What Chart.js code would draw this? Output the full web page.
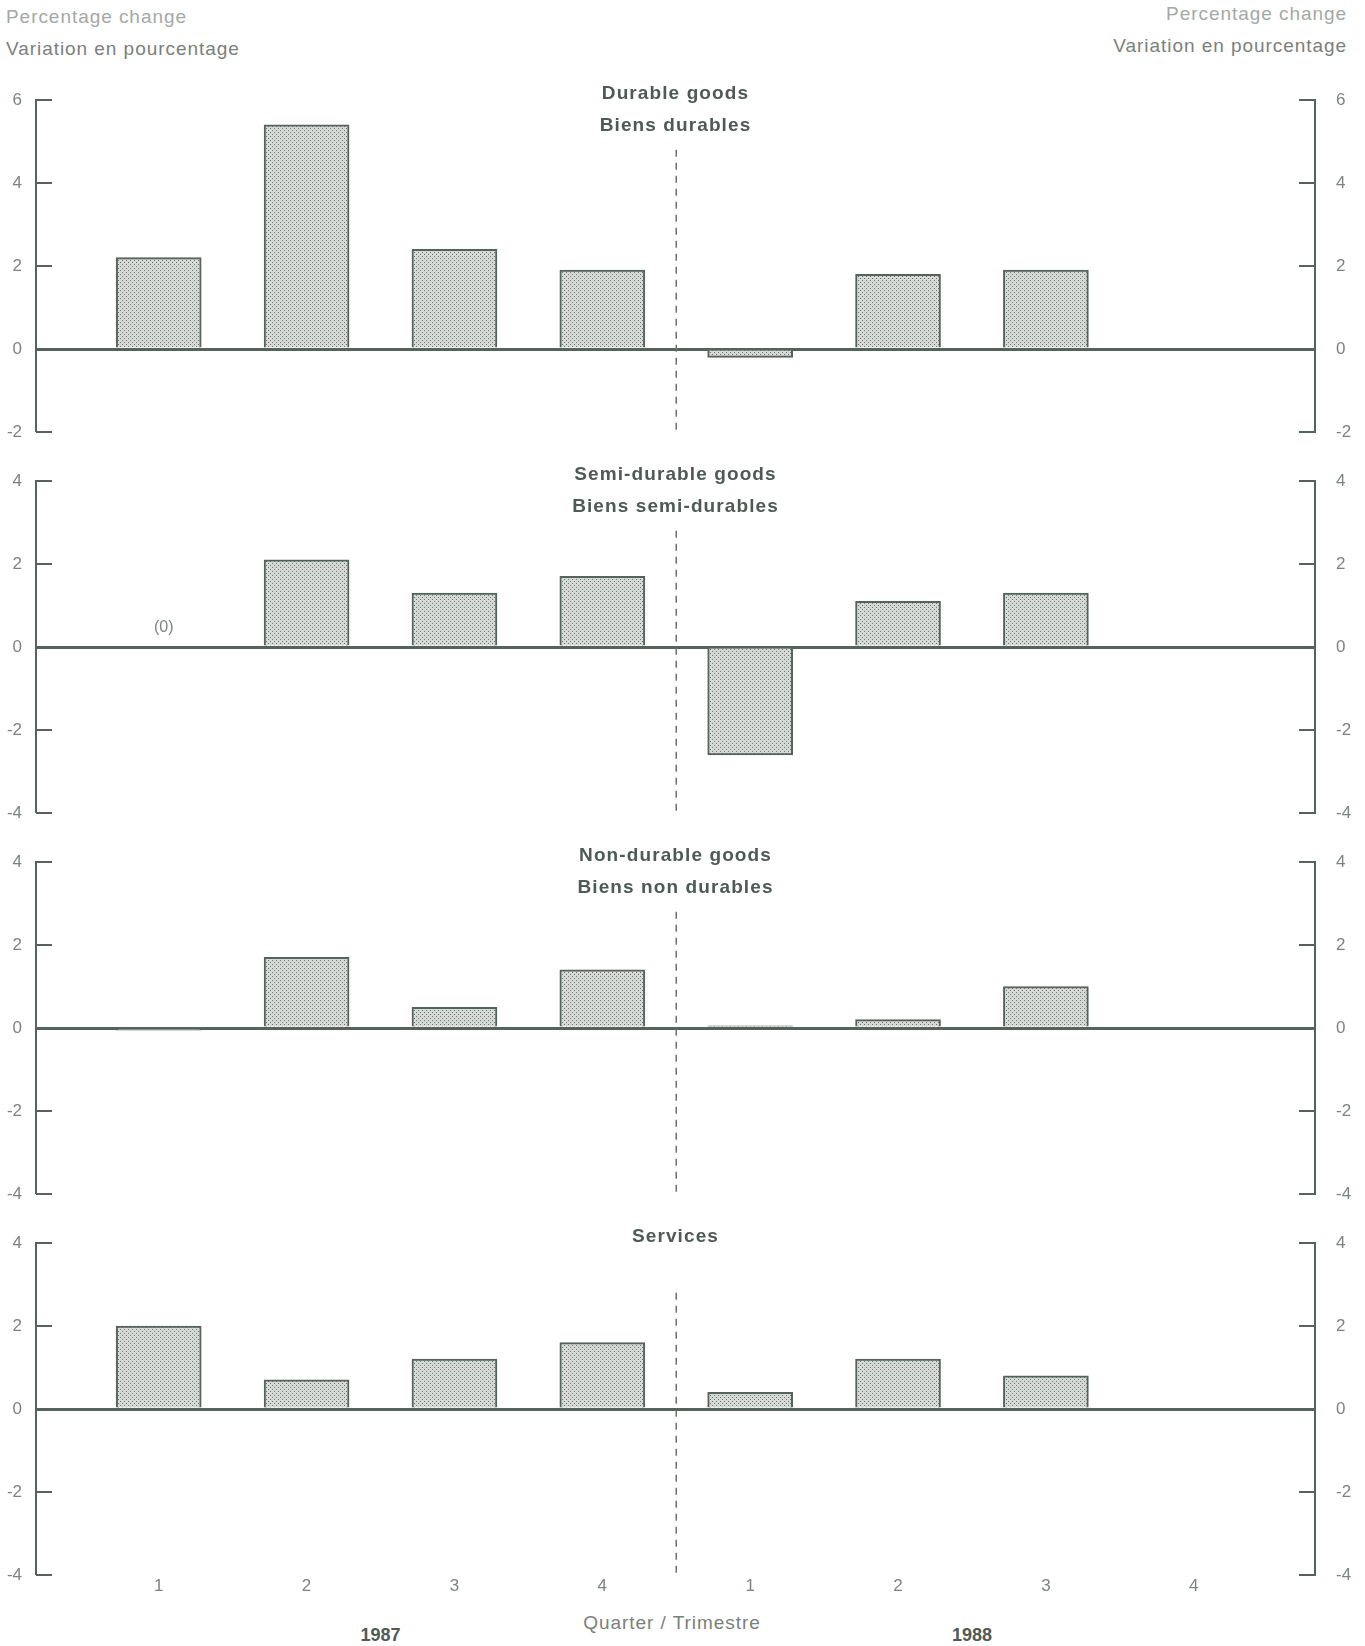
<!DOCTYPE html>
<html lang="en">
<head>
<meta charset="UTF-8">
<title>Consumer expenditure by type</title>
<script src="https://cdn.jsdelivr.net/npm/chart.js@4"></script>
<style>
  body { margin: 0; background: #fff; font-family: "Liberation Sans", Arial, sans-serif; }
  #page { position: relative; width: 1365px; height: 1646px; overflow: hidden; }
  .note { position: absolute; color: #7a807c; font-size: 19px; letter-spacing: 0.95px; line-height: 22px; white-space: nowrap; }
  .light { color: #a3a9a5; }
  .title { position: absolute; left: 36px; width: 1279px; text-align: center; color: #4f5a55;
           font-size: 19px; font-weight: bold; letter-spacing: 1.1px; line-height: 22px; }
  .year { position: absolute; width: 200px; text-align: center; color: #4f5a55; font-size: 18px; font-weight: bold; line-height: 22px; }
  .panel { position: absolute; left: 0; width: 1365px; }
</style>
</head>
<body>
<div id="page">
  <div class="note light" style="left:6px; top:6px;">Percentage change</div>
  <div class="note" style="left:6px; top:38px;">Variation en pourcentage</div>
  <div class="note light" style="right:18px; top:3px;">Percentage change</div>
  <div class="note" style="right:18px; top:35px;">Variation en pourcentage</div>
  <div class="note" style="left:572px; width:200px; text-align:center; top:1612px;">Quarter / Trimestre</div>
</div>

<script>
    // quarter positions on the x axis and their labels
    const quarters = [1, 2, 3, 4, 5, 6, 7, 8];
    const quarterLabels = ['1', '2', '3', '4', '1', '2', '3', '4'];
    const years = ['1987', '1988'];
    const yearCenters = [2.5, 6.5];
    const dividerAt = 4.5;

    // percentage change per quarter (null = no data)
    const durable     = [2.2, 5.4, 2.4, 1.9, -0.2, 1.8, 1.9, null];
    const semiDurable = [0,   2.1, 1.3, 1.7, -2.6, 1.1, 1.3, null];
    const nonDurable  = [-0.05, 1.7, 0.5, 1.4, 0.05, 0.2, 1.0, null];
    const services    = [2.0, 0.7, 1.2, 1.6, 0.4, 1.2, 0.8, null];

    const titlesEn = ['Durable goods', 'Semi-durable goods', 'Non-durable goods', 'Services'];
    const titlesFr = ['Biens durables', 'Biens semi-durables', 'Biens non durables', null];
    const yMin = [-2, -4, -4, -4];
    const yMax = [6, 4, 4, 4];
    const dividerTop = [4.8, 2.8, 2.8, 2.8];

    const series = [durable, semiDurable, nonDurable, services];
    const panelTop = [100, 481, 862, 1243];
    const panelHeight = 332;

    const AXIS = '#56625c';
    const TEXT = '#7d847f';
    const X_MIN = 0.17, X_MAX = 8.82;

    Chart.defaults.font.family = '"Liberation Sans", Arial, sans-serif';

    // stipple fill like the printed screen
    function stipple() {
        const c = document.createElement('canvas');
        c.width = 4; c.height = 4;
        const g = c.getContext('2d');
        g.fillStyle = '#d6d9d6';
        g.fillRect(0, 0, 4, 4);
        g.fillStyle = '#6a736d';
        g.fillRect(0, 0, 1, 1);
        g.fillRect(2, 2, 1, 1);
        return g.createPattern(c, 'repeat');
    }
    const fill = stipple();

    // short tick marks pointing into the plot on both sides
    const innerTicks = {
        id: 'innerTicks',
        afterDatasetsDraw(chart) {
            const { ctx, chartArea: a, scales } = chart;
            ctx.save();
            ctx.strokeStyle = AXIS;
            ctx.lineWidth = 2;
            scales.y.ticks.forEach(t => {
                const y = Math.round(scales.y.getPixelForValue(t.value));
                ctx.beginPath();
                ctx.moveTo(a.left, y); ctx.lineTo(a.left + 16, y);
                ctx.moveTo(a.right - 16, y); ctx.lineTo(a.right, y);
                ctx.stroke();
            });
            ctx.restore();
        }
    };

    // "(0)" marker over quarters with exactly zero change
    const zeroNote = {
        id: 'zeroNote',
        afterDatasetsDraw(chart, args, opts) {
            const vals = opts.values || [];
            const { ctx, scales } = chart;
            ctx.save();
            ctx.fillStyle = TEXT;
            ctx.font = '16px "Liberation Sans", Arial, sans-serif';
            ctx.textAlign = 'center';
            ctx.textBaseline = 'middle';
            vals.forEach((v, i) => {
                if (v === 0) {
                    ctx.fillText('(0)', scales.x.getPixelForValue(quarters[i]) + 5, scales.y.getPixelForValue(0) - 19);
                }
            });
            ctx.restore();
        }
    };

    const page = document.getElementById('page');

    series.forEach((vals, i) => {
        const last = i === series.length - 1;
        const padTop = 34;
        const xHeight = last ? 20 : 0;
        const padBottom = 34 - xHeight;

        const box = document.createElement('div');
        box.className = 'panel';
        box.style.top = (panelTop[i] - padTop) + 'px';
        box.style.height = (padTop + panelHeight + padBottom + xHeight) + 'px';
        const canvas = document.createElement('canvas');
        box.appendChild(canvas);
        page.appendChild(box);

        const t1 = document.createElement('div');
        t1.className = 'title';
        t1.textContent = titlesEn[i];
        t1.style.top = (panelTop[i] - 7 - 11) + 'px';
        page.appendChild(t1);
        if (titlesFr[i]) {
            const t2 = document.createElement('div');
            t2.className = 'title';
            t2.textContent = titlesFr[i];
            t2.style.top = (panelTop[i] + 25 - 11) + 'px';
            page.appendChild(t2);
        }

        const bars = quarters
            .map((q, k) => ({ x: q, y: vals[k] }))
            .filter(d => d.y !== null);

        new Chart(canvas, {
            type: 'bar',
            data: {
                datasets: [{
                    data: bars,
                    backgroundColor: fill,
                    borderColor: AXIS,
                    borderWidth: 2,
                    barThickness: 85,
                    order: 1
                }, {
                    type: 'line',
                    data: [{ x: dividerAt, y: dividerTop[i] }, { x: dividerAt, y: yMin[i] }],
                    borderColor: '#6a716d',
                    borderWidth: 1.5,
                    borderDash: [7, 6],
                    pointRadius: 0,
                    order: 0
                }]
            },
            options: {
                responsive: true,
                maintainAspectRatio: false,
                animation: false,
                layout: { padding: { top: padTop, bottom: padBottom, left: 0, right: 0 } },
                plugins: {
                    legend: { display: false },
                    tooltip: { enabled: false },
                    zeroNote: { values: vals }
                },
                scales: {
                    x: {
                        type: 'linear',
                        min: X_MIN,
                        max: X_MAX,
                        offset: false,
                        display: last,
                        grid: { display: false },
                        border: { display: false },
                        afterBuildTicks: s => { s.ticks = quarters.map(v => ({ value: v })); },
                        afterFit: s => { s.height = xHeight; },
                        ticks: {
                            autoSkip: false,
                            maxRotation: 0,
                            padding: -7,
                            color: TEXT,
                            font: { size: 17 },
                            callback: v => quarterLabels[quarters.indexOf(v)]
                        }
                    },
                    y: {
                        position: 'left',
                        min: yMin[i],
                        max: yMax[i],
                        afterFit: s => { s.width = 36; },
                        grid: {
                            drawTicks: false,
                            color: c => c.tick && c.tick.value === 0 ? AXIS : 'rgba(0,0,0,0)',
                            lineWidth: c => c.tick && c.tick.value === 0 ? 3 : 0
                        },
                        border: { display: true, color: AXIS, width: 2 },
                        ticks: { stepSize: 2, padding: 14, color: TEXT, font: { size: 17 } }
                    },
                    y2: {
                        position: 'right',
                        min: yMin[i],
                        max: yMax[i],
                        afterFit: s => { s.width = 50; },
                        grid: { display: false, drawTicks: false },
                        border: { display: true, color: AXIS, width: 2 },
                        ticks: { stepSize: 2, padding: 21, color: TEXT, font: { size: 17 } }
                    }
                }
            },
            plugins: [innerTicks, zeroNote]
        });
    });

    // year captions under the quarter labels
    years.forEach((y, k) => {
        const d = document.createElement('div');
        d.className = 'year';
        d.textContent = y;
        const px = 36 + (yearCenters[k] - X_MIN) / (X_MAX - X_MIN) * 1279;
        d.style.left = (px - 100) + 'px';
        d.style.top = '1624px';
        page.appendChild(d);
    });
</script>
</body>
</html>
